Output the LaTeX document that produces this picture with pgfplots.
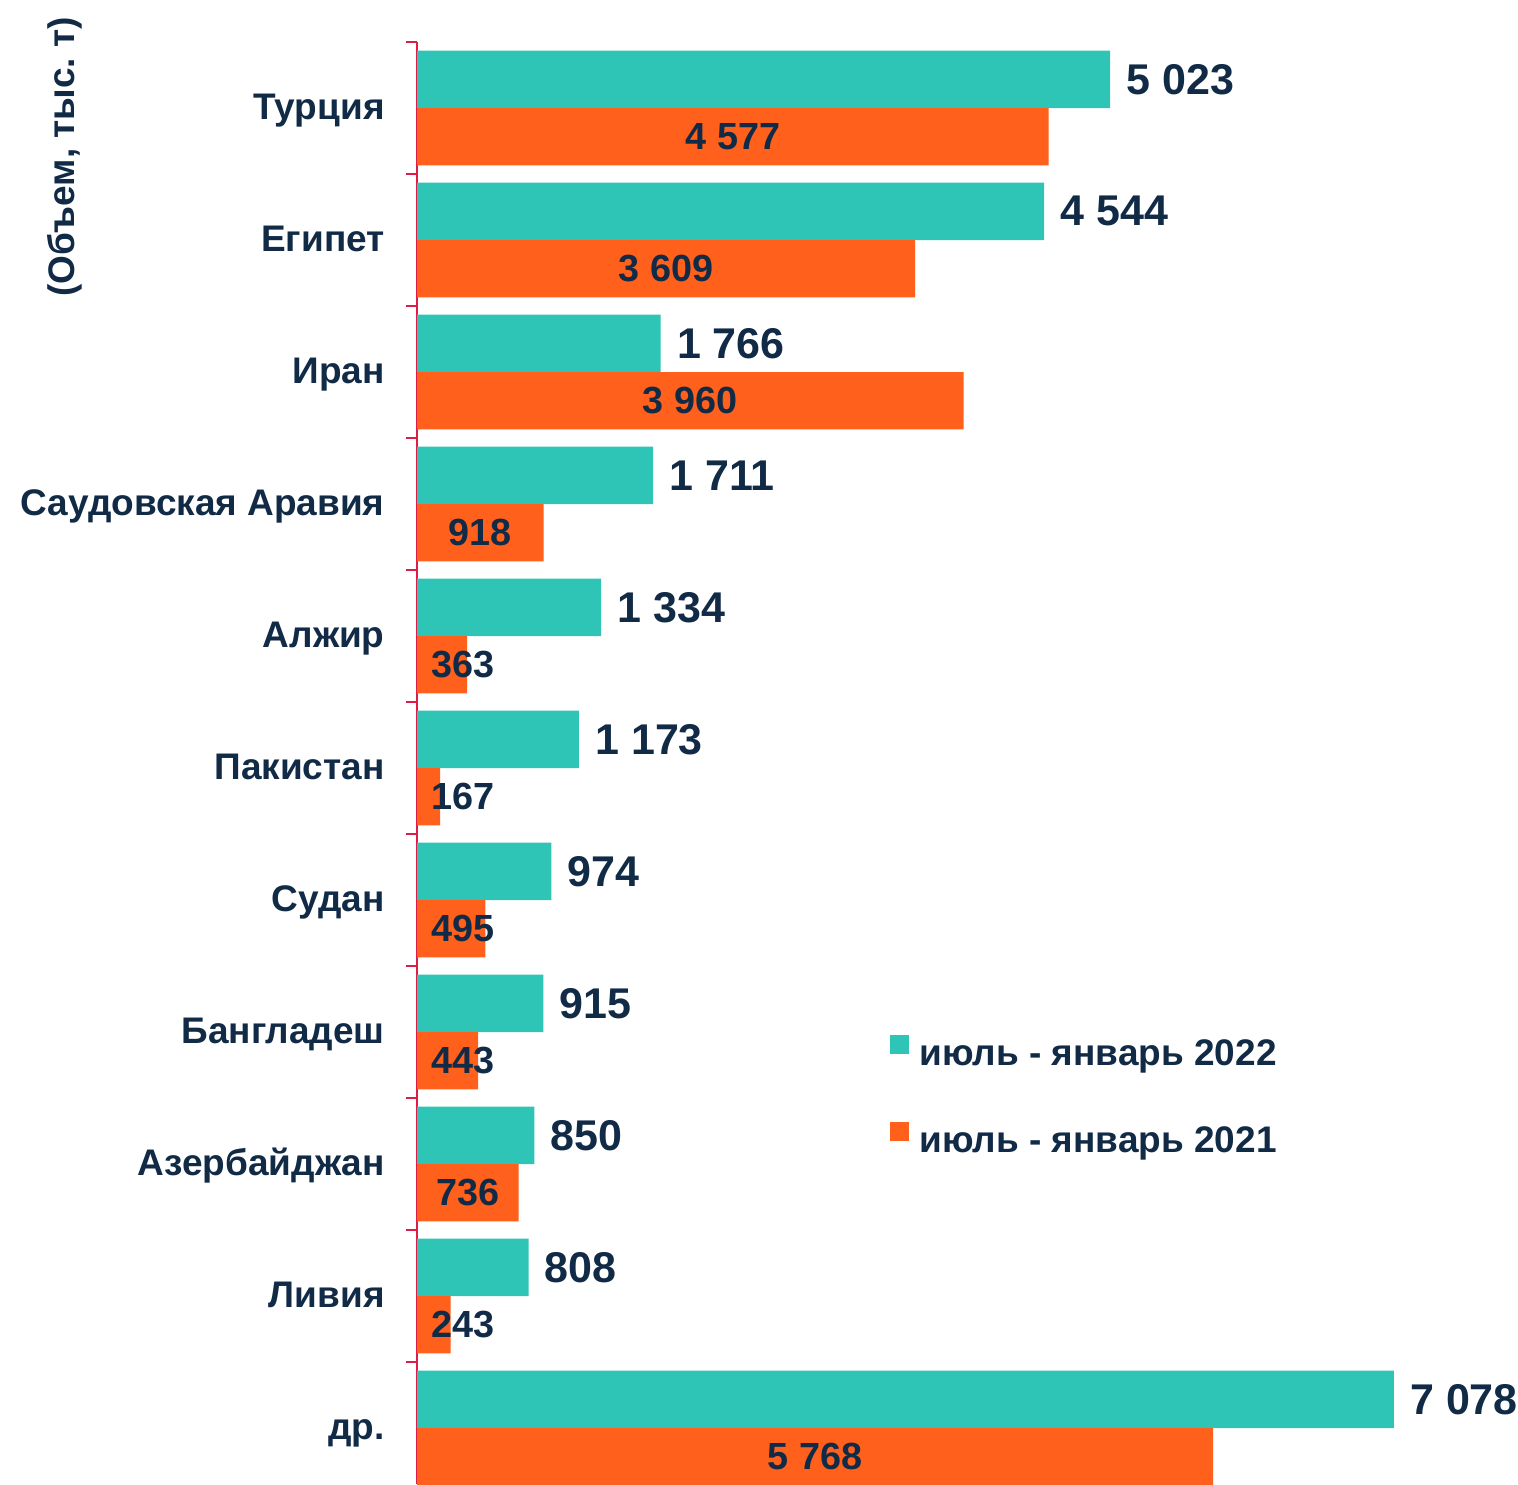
\documentclass[border=0pt]{standalone}
\usepackage{pgfplots}
\pgfplotsset{compat=1.18}
\usepackage{fontspec}
\setmainfont{Liberation Sans}
\definecolor{teal2}{RGB}{46,196,182}
\definecolor{orng}{RGB}{255,96,28}
\definecolor{navy}{RGB}{17,42,70}
\definecolor{axred}{RGB}{220,30,70}
\begin{document}
\begin{tikzpicture}
\useasboundingbox (0,0) rectangle (759pt,742pt);
\begin{axis}[
  at={(208.5pt,0pt)}, anchor=south west,
  scale only axis, width=550.5pt, height=721pt,
  xmin=0, xmax=7978, ymin=-0.5, ymax=10.424,
  y dir=reverse,
  axis x line=none,
  axis y line=left,
  y axis line style={-, draw=axred, line width=1pt},
  ytick={0,...,10},
  yticklabels={Турция, Египет, Иран, Саудовская Аравия, Алжир, Пакистан, Судан, Бангладеш, Азербайджан, Ливия, др.},
  minor ytick={-0.5,0.5,...,9.5},
  major tick length=0pt, minor tick length=5.5pt,
  tick align=outside,
  minor tick style={draw=axred, line width=1pt},
  yticklabel style={font=\fontsize{18.5}{20}\selectfont\bfseries, text=navy, anchor=base east, inner sep=0pt, xshift=-16pt, yshift=-5.5pt},
  xbar, bar width=0.435, bar shift=0pt,
  point meta=explicit symbolic,
  legend style={at={(0.4296,0.2680)}, anchor=west, draw=none, fill=none, inner sep=0pt,
    row sep=24pt, column sep=5pt,
    nodes={inner sep=0pt, text height=13pt, text depth=4pt},
    font=\fontsize{18.5}{20}\selectfont\bfseries, text=navy},
  legend cell align=left,
]
\addplot[fill=teal2, draw=none,
  legend image code/.code={\fill[teal2] (0pt,1.5pt) rectangle (9.5pt,11pt);},
  nodes near coords,
  every node near coord/.style={anchor=west, font=\fontsize{21.5}{24}\selectfont\bfseries, text=navy, inner sep=0pt, xshift=8pt}]
coordinates {
(5023,-0.2175) [5 023]
(4544,0.7825) [4 544]
(1766,1.7825) [1 766]
(1711,2.7825) [1 711]
(1334,3.7825) [1 334]
(1173,4.7825) [1 173]
(974,5.7825) [974]
(915,6.7825) [915]
(850,7.7825) [850]
(808,8.7825) [808]
(7078,9.7825) [7 078]
};
\addplot[fill=orng, draw=none,
  legend image code/.code={\fill[orng] (0pt,1.5pt) rectangle (9.5pt,11pt);},
  visualization depends on={rawx \as \rawx},
  nodes near coords,
  every node near coord/.style={anchor=center, font=\fontsize{18.9}{21}\selectfont\bfseries, text=navy, inner sep=0pt, xshift={0.069pt*max(-0.5*\rawx,333-\rawx)}}]
coordinates {
(4577,0.2175) [4 577]
(3609,1.2175) [3 609]
(3960,2.2175) [3 960]
(918,3.2175) [918]
(363,4.2175) [363]
(167,5.2175) [167]
(495,6.2175) [495]
(443,7.2175) [443]
(736,8.2175) [736]
(243,9.2175) [243]
(5768,10.2175) [5 768]
};
\legend{июль - январь 2022, июль - январь 2021}
\end{axis}
\node[rotate=90, font=\fontsize{18.5}{20}\selectfont\bfseries, text=navy] at (32.5pt,663.5pt) {(Объем, тыс.~т)};
\end{tikzpicture}
\end{document}
